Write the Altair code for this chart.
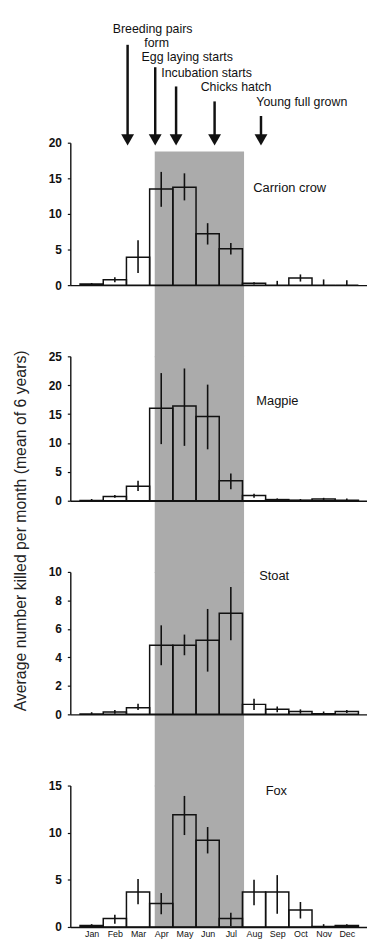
import altair as alt
import pandas as pd

months = ["Jan", "Feb", "Mar", "Apr", "May", "Jun", "Jul", "Aug", "Sep", "Oct", "Nov", "Dec"]

species = ["Carrion crow", "Magpie", "Stoat", "Fox"]

crow_mean = [0.15, 0.75, 3.9, 13.5, 13.75, 7.2, 5.1, 0.25, 0.0, 1.0, 0.0, 0.0]
crow_lo = [0.0, 0.4, 1.7, 11.0, 11.9, 5.7, 4.3, 0.1, 0.0, 0.5, 0.0, 0.0]
crow_hi = [0.3, 1.1, 6.3, 15.9, 15.7, 8.7, 5.9, 0.4, 0.6, 1.5, 0.8, 0.7]

magpie_mean = [0.05, 0.75, 2.5, 16.0, 16.4, 14.6, 3.45, 0.9, 0.2, 0.1, 0.3, 0.1]
magpie_lo = [0.0, 0.5, 1.7, 9.8, 9.5, 8.9, 2.0, 0.5, 0.0, 0.0, 0.1, 0.0]
magpie_hi = [0.3, 1.0, 3.45, 22.1, 22.9, 20.1, 4.7, 1.2, 0.4, 0.3, 0.5, 0.4]

stoat_mean = [0.02, 0.16, 0.47, 4.85, 4.85, 5.2, 7.1, 0.7, 0.35, 0.2, 0.05, 0.2]
stoat_lo = [0.0, 0.05, 0.3, 3.45, 4.15, 3.0, 5.2, 0.3, 0.15, 0.05, 0.0, 0.1]
stoat_hi = [0.15, 0.3, 0.75, 6.25, 5.6, 7.4, 8.95, 1.1, 0.55, 0.35, 0.2, 0.3]

fox_mean = [0.15, 0.9, 3.7, 2.5, 11.9, 9.2, 0.9, 3.7, 3.7, 1.8, 0.05, 0.15]
fox_lo = [0.05, 0.35, 2.4, 1.35, 9.75, 7.8, 0.1, 2.3, 1.4, 0.9, 0.0, 0.05]
fox_hi = [0.3, 1.3, 5.1, 3.6, 13.9, 10.6, 1.5, 5.0, 5.5, 2.65, 0.3, 0.3]

y_max = [20, 25, 10, 15]
y_step = [5, 5, 2, 5]

# breeding-season events (month units, top panel units)
event_text = ["Breeding pairs", "form", "Egg laying starts", "Incubation starts", "Chicks hatch", "Young full grown"]
event_text_x = [1.41, 2.77, 2.65, 3.5, 5.2, 7.6]
event_text_y = [35.9, 33.96, 32.01, 29.72, 27.78, 25.69]
arrow_x = [2.05, 3.24, 4.14, 5.8, 7.8]
arrow_top = [33.75, 30.6, 27.9, 25.8, 23.75]
arrow_head = 20.4

band_start, band_end, band_top = 3.22, 7.07, 18.75

label_x = [7.47, 7.6, 7.72, 8.0]
label_y = [13.6, 17.2, 9.7, 14.4]

FONT = "Liberation Sans"
INK = "#111111"
X_DOMAIN = [-0.42, 12.37]
W = 300
HEIGHTS = [144, 146, 144, 143]
GAP = 72
YTITLE = "Average number killed per month (mean of 6 years)"


def make_panel(i, mean, lo, hi):
    h = HEIGHTS[i]
    last = i == 3
    df = pd.DataFrame({
        "month": months,
        "start": [k for k in range(12)],
        "end": [k + 1 for k in range(12)],
        "mid": [k + 0.5 for k in range(12)],
        "mean": mean,
        "lo": lo,
        "hi": hi,
    })
    xs = alt.Scale(domain=X_DOMAIN, nice=False, zero=False)
    ys = alt.Scale(domain=[0, y_max[i]], nice=False, zero=True)
    if last:
        label_expr = "[" + ",".join("'" + m + "'" for m in months) + "][floor(datum.value)]"
        xaxis = alt.Axis(values=[k + 0.5 for k in range(12)], labelExpr=label_expr, ticks=False,
                         grid=False, domainColor=INK, domainWidth=1.4, labelFont=FONT,
                         labelFontSize=9, labelColor=INK, labelPadding=3, title=None, zindex=2)
    else:
        xaxis = alt.Axis(labels=False, ticks=False, grid=False, domainColor=INK, domainWidth=1.4,
                         title=None, zindex=2)
    ykw = dict(values=list(range(0, y_max[i] + 1, y_step[i])), grid=False, domainColor=INK,
               domainWidth=1.4, tickColor=INK, tickSize=3, tickWidth=1.2, labelFont=FONT,
               labelFontSize=12, labelFontWeight="bold", labelColor=INK, labelPadding=6, zindex=2)
    if i == 2:
        yaxis = alt.Axis(title=YTITLE, titleFont=FONT, titleFontSize=16, titleFontWeight="normal",
                         titleColor="#222222", titleAngle=270, titleAlign="center",
                         titleBaseline="middle", titleX=-50, titleY=-42, **ykw)
    else:
        yaxis = alt.Axis(title=None, **ykw)

    def X(f):
        return alt.X(f, type="quantitative", scale=xs, axis=xaxis)

    def Y(f):
        return alt.Y(f, type="quantitative", scale=ys, axis=yaxis)

    band_df = pd.DataFrame({"b0": [band_start], "b1": [band_end], "top": [band_top]})
    band = alt.Chart(band_df).mark_rect(fill="#ababab", opacity=1)
    if i == 0:
        band = band.encode(x=X("b0"), x2="b1", y=Y("top"), y2=alt.value(h + GAP + 1))
    elif last:
        band = band.encode(x=X("b0"), x2="b1", y=alt.value(0), y2=alt.value(h))
    else:
        band = band.encode(x=X("b0"), x2="b1", y=alt.value(0), y2=alt.value(h + GAP + 1))

    base = alt.Chart(df)
    bars = base.mark_rect(fill="transparent", stroke=INK, strokeWidth=1.5).encode(
        x=X("start"), x2="end", y=Y("mean"), y2=alt.datum(0)
    )
    errs = base.mark_rule(color=INK, strokeWidth=1.6).encode(
        x=X("mid"), y=Y("lo"), y2="hi"
    )
    lab_df = pd.DataFrame({"name": [species[i]], "x": [label_x[i]], "y": [label_y[i]]})
    lab = alt.Chart(lab_df).mark_text(font=FONT, fontSize=13, color=INK, align="left",
                                      baseline="middle").encode(x=X("x"), y=Y("y"), text="name")
    layers = [band, bars, errs, lab]

    if i == 0:
        ev_df = pd.DataFrame({"t": event_text, "x": event_text_x, "y": event_text_y})
        ev = alt.Chart(ev_df).mark_text(font=FONT, fontSize=12.5, color=INK, align="left",
                                        baseline="middle").encode(x=X("x"), y=Y("y"), text="t")
        ar_df = pd.DataFrame({"x": arrow_x, "top": arrow_top, "head": [arrow_head] * len(arrow_x)})
        shafts = alt.Chart(ar_df).mark_rule(color=INK, strokeWidth=2.5).encode(
            x=X("x"), y=Y("top"), y2="head"
        )
        heads = alt.Chart(ar_df).mark_point(shape="triangle-down", filled=True, size=169,
                                            color=INK, opacity=1).encode(x=X("x"), y=Y("head"))
        layers += [shafts, heads, ev]

    return alt.layer(*layers).properties(width=W, height=h)


panels = [
    make_panel(0, crow_mean, crow_lo, crow_hi),
    make_panel(1, magpie_mean, magpie_lo, magpie_hi),
    make_panel(2, stoat_mean, stoat_lo, stoat_hi),
    make_panel(3, fox_mean, fox_lo, fox_hi),
]

chart = alt.vconcat(*panels, spacing=GAP, bounds="flush").properties(
    padding={"left": 4, "top": 10, "right": 0, "bottom": 0}
).configure_view(strokeWidth=0)

chart.save("out.html", embed_options={"renderer": "svg", "actions": False})
